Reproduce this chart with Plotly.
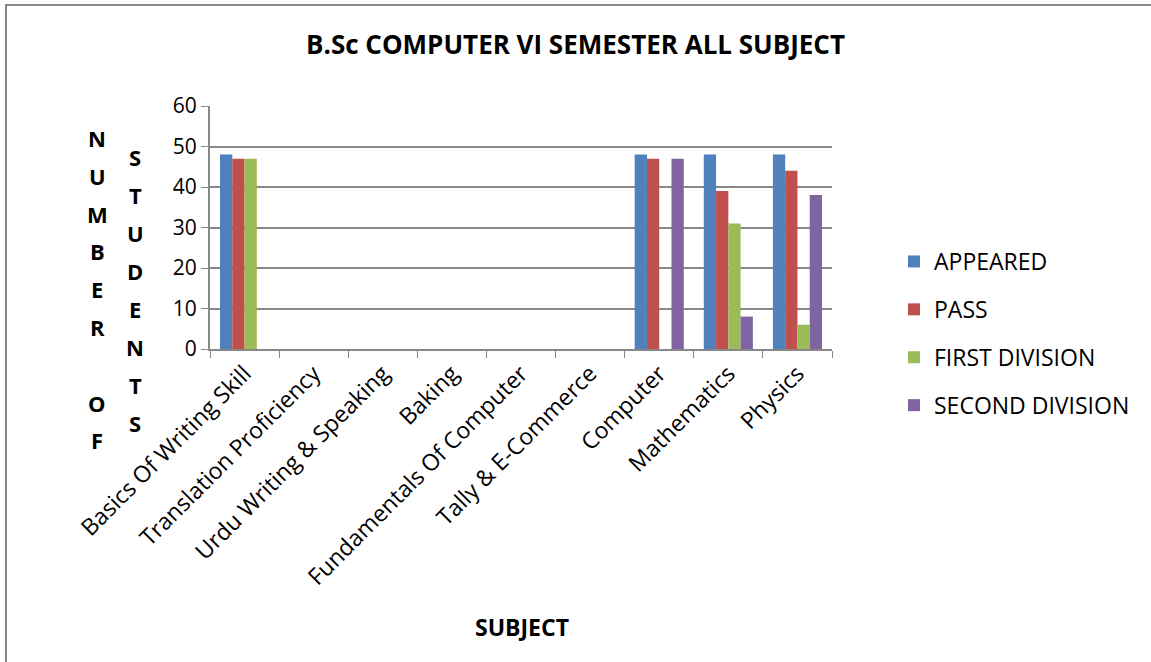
import plotly.graph_objects as go

subjects = ["Basics Of Writing Skill", "Translation Proficiency", "Urdu Writing & Speaking",
            "Baking", "Fundamentals Of Computer", "Tally & E-Commerce",
            "Computer", "Mathematics", "Physics"]
appeared = [48, 0, 0, 0, 0, 0, 48, 48, 48]
passed = [47, 0, 0, 0, 0, 0, 47, 39, 44]
first_div = [47, 0, 0, 0, 0, 0, 0, 31, 6]
second_div = [0, 0, 0, 0, 0, 0, 47, 8, 38]

series = [("APPEARED", appeared, "#4F81BD"),
          ("PASS", passed, "#C0504D"),
          ("FIRST DIVISION", first_div, "#9BBB59"),
          ("SECOND DIVISION", second_div, "#8064A2")]

FONT = "Open Sans"

fig = go.Figure()
for i, (name, vals, col) in enumerate(series):
    fig.add_trace(go.Bar(x=subjects, y=vals, name=name, legendgroup=str(i),
                         marker=dict(color=col, line=dict(width=0))))

# plot area in pixels: x 210..832, y 106..349
L, R, T, B = 210, 832, 106, 349
W, H = 1151, 662

def px(x):
    return (x - L) / (R - L)

def py(y):
    return (B - y) / (B - T)

annotations = []
# the y axis title is stacked letter by letter in two columns
col1 = ["N", "U", "M", "B", "E", "R", "", "O", "F"]
col2 = ["S", "T", "U", "D", "E", "N", "T", "S"]
for k, ch in enumerate(col1):
    if ch:
        annotations.append(dict(text="<b>" + ch + "</b>", x=px(97), y=py(138 + k * 37.8),
                                xref="paper", yref="paper", showarrow=False,
                                font=dict(size=22, family=FONT, color="black"),
                                xanchor="center", yanchor="middle"))
for k, ch in enumerate(col2):
    annotations.append(dict(text="<b>" + ch + "</b>", x=px(135), y=py(157 + k * 38),
                            xref="paper", yref="paper", showarrow=False,
                            font=dict(size=22, family=FONT, color="black"),
                            xanchor="center", yanchor="middle"))

annotations.append(dict(text="<b>SUBJECT</b>", x=px(522), y=py(627), xref="paper", yref="paper",
                        showarrow=False, font=dict(size=23, family=FONT, color="black"),
                        xanchor="center", yanchor="middle"))

fig.update_layout(
    width=W, height=H,
    margin=dict(l=L, r=W - R, t=T, b=H - B),
    paper_bgcolor="white", plot_bgcolor="white",
    font=dict(family=FONT, size=20, color="black"),
    title=dict(text="<b>B.Sc COMPUTER VI SEMESTER ALL SUBJECT</b>", x=0.5, xanchor="center",
               y=1 - 45 / H, yanchor="middle", font=dict(size=26, family=FONT, color="black")),
    barmode="group", bargap=0.29, bargroupgap=0,
    legend=dict(x=px(894), y=py(240), xanchor="left", yanchor="top",
                font=dict(size=23, family=FONT, color="black"), tracegroupgap=15,
                bgcolor="rgba(0,0,0,0)"),
    annotations=annotations,
    shapes=[dict(type="rect", xref="paper", yref="paper", x0=px(6), x1=px(1200), y0=py(5), y1=py(700),
                 line=dict(color="#888888", width=2), layer="below")],
)
fig.update_xaxes(tickangle=-45, showline=True, linecolor="#888888", linewidth=2,
                 ticks="outside", ticklen=7, tickcolor="#888888", tickson="boundaries",
                 showgrid=False, tickfont=dict(size=23, family=FONT, color="black"))
fig.update_yaxes(range=[0, 60], dtick=10, showline=True, linecolor="#888888", linewidth=2,
                 ticks="outside", ticklen=7, tickcolor="#888888",
                 showgrid=True, gridcolor="#888888", gridwidth=2, zeroline=False,
                 tickfont=dict(size=21, family=FONT, color="black"))

fig.write_html("out.html", config={"displayModeBar": False},
               post_script="document.body.style.margin='0';")
